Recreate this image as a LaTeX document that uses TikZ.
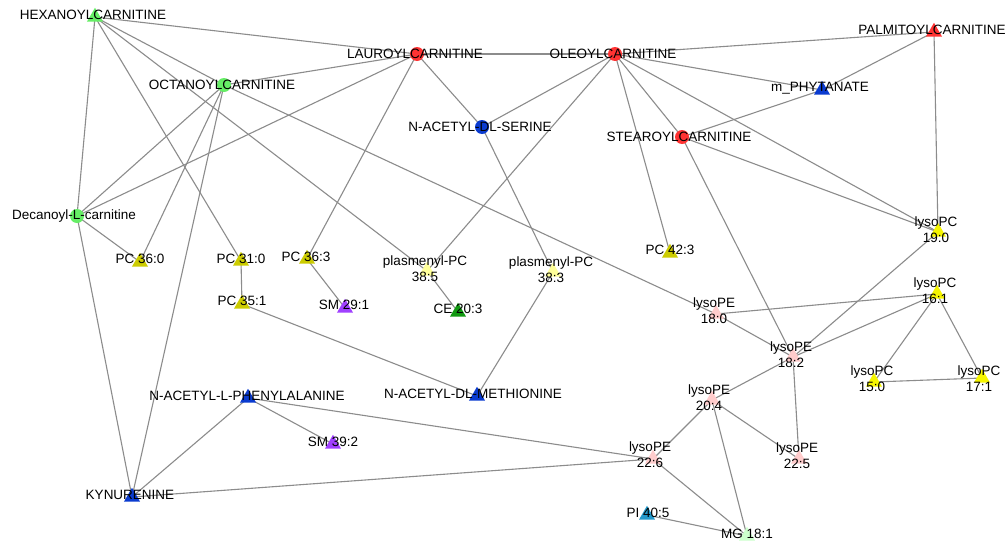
\documentclass[tikz,border=0pt]{standalone}
\usepackage{fontspec}
\setmainfont{Liberation Sans}
\usetikzlibrary{shapes.geometric}
\pgfdeclarelayer{paper}
\pgfdeclarelayer{background}
\pgfsetlayers{paper,background,main}
\definecolor{cgreen}{HTML}{66EE66}
\definecolor{cred}{HTML}{FF3333}
\definecolor{cblue}{HTML}{0A3BD0}
\definecolor{colive}{HTML}{CCCC00}
\definecolor{cyellow}{HTML}{F5F500}
\definecolor{cpale}{HTML}{FFFF99}
\definecolor{cpink}{HTML}{FFCCCC}
\definecolor{cpurple}{HTML}{A040FF}
\definecolor{cdgreen}{HTML}{119911}
\definecolor{cteal}{HTML}{2299CC}
\definecolor{cmint}{HTML}{CCFFCC}
\definecolor{edgegray}{HTML}{8C8C8C}
\begin{document}
\begin{tikzpicture}[x=1pt,y=-1pt,
  tri/.style={regular polygon, regular polygon sides=3, minimum size=18.5pt, inner sep=0pt, draw=none, fill=#1},
  circ/.style={circle, minimum size=14pt, inner sep=0pt, draw=none, fill=#1},
  lbl/.style={font=\fontsize{13.5}{16}\selectfont, inner sep=0pt, align=center, text=black},
  link/.style={draw=edgegray, line width=1.1pt}]
\useasboundingbox (0,0) rectangle (1008,541);
\begin{pgfonlayer}{paper}
\fill[white] (0,0) rectangle (1008,541);
\end{pgfonlayer}
% markers
\node[tri=cgreen] (hex) at (95,17) {};
\node[circ=cgreen] (oct) at (224,85) {};
\node[circ=cred] (laur) at (417,54) {};
\node[circ=cred] (ole) at (615,54) {};
\node[circ=cblue] (ser) at (482,127) {};
\node[circ=cred] (stear) at (682,137) {};
\node[tri=cred] (palm) at (934,32) {};
\node[tri=cblue] (phyt) at (822,90) {};
\node[circ=cgreen] (dec) at (77,216) {};
\node[tri=colive] (pc360) at (140,262) {};
\node[tri=colive] (pc310) at (241,261) {};
\node[tri=colive] (pc351) at (242,304) {};
\node[tri=colive] (pc363) at (307,259) {};
\node[tri=cpurple] (sm291) at (345,308) {};
\node[tri=cpale] (pl385) at (427,271) {};
\node[tri=cdgreen] (ce203) at (458,312) {};
\node[tri=cpale] (pl383) at (553,272) {};
\node[tri=colive] (pc423) at (670,253) {};
\node[tri=cyellow] (lpc190) at (938,232) {};
\node[tri=cyellow] (lpc161) at (937,294) {};
\node[tri=cpink] (lpe180) at (716,314) {};
\node[tri=cpink] (lpe182) at (793,357) {};
\node[tri=cyellow] (lpc150) at (874,382) {};
\node[tri=cyellow] (lpc171) at (982,378) {};
\node[tri=cpink] (lpe204) at (712,400) {};
\node[tri=cpink] (lpe225) at (799,459) {};
\node[tri=cmint] (mg181) at (747,536) {};
\node[tri=cteal] (pi405) at (647,515) {};
\node[tri=cpink] (lpe226) at (653,459) {};
\node[tri=cblue] (nadlm) at (477,396) {};
\node[tri=cblue] (nalp) at (248,398) {};
\node[tri=cpurple] (sm392) at (333,444) {};
\node[tri=cblue] (kyn) at (132,497) {};
% labels
\node[lbl] (hexl) at (93,15) {HEXANOYLCARNITINE};
\node[lbl] (octl) at (222,85) {OCTANOYLCARNITINE};
\node[lbl] (laurl) at (415,54) {LAUROYLCARNITINE};
\node[lbl] (olel) at (613,54) {OLEOYLCARNITINE};
\node[lbl] (serl) at (480,127) {N-ACETYL-DL-SERINE};
\node[lbl] (stearl) at (679,137) {STEAROYLCARNITINE};
\node[lbl] (palml) at (932,30) {PALMITOYLCARNITINE};
\node[lbl] (phytl) at (820,88) {m\_PHYTANATE};
\node[lbl] (decl) at (74,216) {Decanoyl-L-carnitine};
\node[lbl] (pc360l) at (140,259) {PC 36:0};
\node[lbl] (pc310l) at (241,259) {PC 31:0};
\node[lbl] (pc351l) at (242,301) {PC 35:1};
\node[lbl] (pc363l) at (306,257) {PC 36:3};
\node[lbl] (sm291l) at (344,305) {SM 29:1};
\node[lbl] (pl385l) at (425,269) {plasmenyl-PC\\38:5};
\node[lbl] (ce203l) at (458,309) {CE 20:3};
\node[lbl] (pl383l) at (551,270) {plasmenyl-PC\\38:3};
\node[lbl] (pc423l) at (670,250) {PC 42:3};
\node[lbl] (lpc190l) at (936,230) {lysoPC\\19:0};
\node[lbl] (lpc161l) at (935,291) {lysoPC\\16:1};
\node[lbl] (lpe180l) at (714,311) {lysoPE\\18:0};
\node[lbl] (lpe182l) at (791,355) {lysoPE\\18:2};
\node[lbl] (lpc150l) at (872,379) {lysoPC\\15:0};
\node[lbl] (lpc171l) at (979,379) {lysoPC\\17:1};
\node[lbl] (lpe204l) at (709,398) {lysoPE\\20:4};
\node[lbl] (lpe225l) at (797,456) {lysoPE\\22:5};
\node[lbl] (mg181l) at (747,534) {MG 18:1};
\node[lbl] (pi405l) at (648,513) {PI 40:5};
\node[lbl] (lpe226l) at (650,455) {lysoPE\\22:6};
\node[lbl] (nadlml) at (473,394) {N-ACETYL-DL-METHIONINE};
\node[lbl] (nalpl) at (247,396) {N-ACETYL-L-PHENYLALANINE};
\node[lbl] (sm392l) at (333,442) {SM 39:2};
\node[lbl] (kynl) at (130,495) {KYNURENINE};
% edges
\begin{pgfonlayer}{background}
\foreach \a/\b in {hex/laur, hex/oct, hex/dec, hex/pc310, hex/pl385,
  oct/laur, oct/dec, oct/pc360, oct/kyn, oct/lpe180,
  laur/ole, laur/ser, laur/dec, laur/pc363,
  ser/ole, ser/pl383,
  ole/pl385, ole/pc423, ole/palm, ole/phyt, ole/lpc190, ole/stear,
  stear/phyt, phyt/palm, stear/lpc190, stear/lpe182, palm/lpc190,
  lpc190/lpe182, lpe180/lpc161, lpe180/lpe182, lpe182/lpc161,
  lpc161/lpc150, lpc161/lpc171, lpc150/lpc171,
  lpe182/lpe204, lpe182/lpe225,
  lpe204/lpe226, lpe204/lpe225, lpe204/mg181,
  lpe226/mg181, pi405/mg181, lpe226/kyn, lpe226/nalp,
  nalp/kyn, nalp/sm392, kyn/dec,
  pc310/pc351, pc351/nadlm, pl383/nadlm, pl385/ce203, pc363/sm291, dec/pc360}
  \draw[link] (\a.center) -- (\b.center);
\end{pgfonlayer}
\end{tikzpicture}
\end{document}
